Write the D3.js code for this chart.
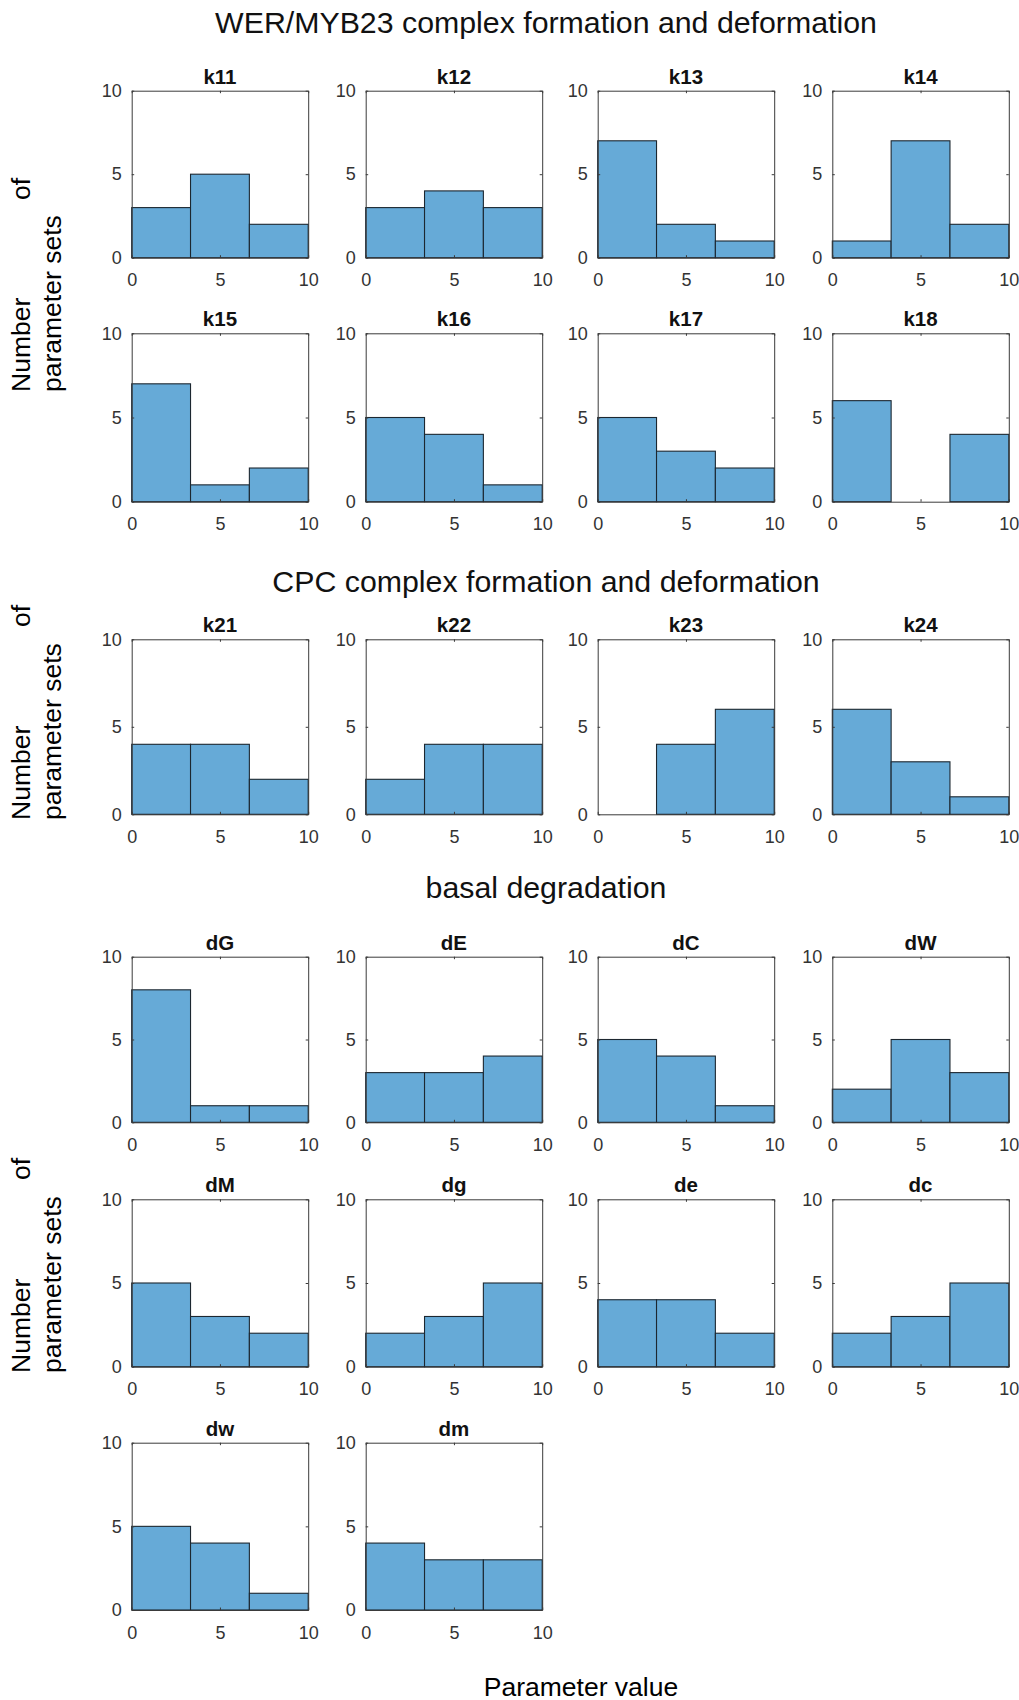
<!DOCTYPE html>
<html>
<head>
<meta charset="utf-8">
<script src="https://cdn.jsdelivr.net/npm/d3@7"></script>
<style>
  html, body { margin: 0; padding: 0; background: #fff; }
  svg { display: block; }
  text { font-family: "Liberation Sans", Arial, Helvetica, sans-serif; }
</style>
</head>
<body>
<svg id="chart" width="1019" height="1700"></svg>
<script>
// Histogram bins shared by every panel (3 equal bins over 0..10)
const binEdges = [0, 10 / 3, 20 / 3, 10];
const xTickValues = [0, 5, 10];
const yTickValues = [0, 5, 10];

// Section titles
const sectionTitles = [
  "WER/MYB23 complex formation and deformation",
  "CPC complex formation and deformation",
  "basal degradation"
];

// WER/MYB23 complex formation and deformation
const werNames = ["k11", "k12", "k13", "k14", "k15", "k16", "k17", "k18"];
const werCounts = [
  [3, 5, 2], [3, 4, 3], [7, 2, 1], [1, 7, 2],
  [7, 1, 2], [5, 4, 1], [5, 3, 2], [6, 0, 4]
];

// CPC complex formation and deformation
const cpcNames = ["k21", "k22", "k23", "k24"];
const cpcCounts = [
  [4, 4, 2], [2, 4, 4], [0, 4, 6], [6, 3, 1]
];

// basal degradation
const basalNames = ["dG", "dE", "dC", "dW", "dM", "dg", "de", "dc", "dw", "dm"];
const basalCounts = [
  [8, 1, 1], [3, 3, 4], [5, 4, 1], [2, 5, 3],
  [5, 3, 2], [2, 3, 5], [4, 4, 2], [2, 3, 5],
  [5, 4, 1], [4, 3, 3]
];

const yLabelLine1Start = "Number";
const yLabelLine1End = "of";
const yLabelLine2 = "parameter sets";
const xLabelText = "Parameter value";

// ---- layout ----
const colX = [131.7, 365.7, 597.7, 832.3];
const panelW = 176.5;
const rowBoxes = [
  { top: 90.7, h: 167 },
  { top: 333.3, h: 168.4 },
  { top: 639.3, h: 175 },
  { top: 956.7, h: 165.6 },
  { top: 1199.3, h: 167.4 },
  { top: 1442.7, h: 167.3 }
];
const sections = [
  { title: sectionTitles[0], titleY: 33, names: werNames, counts: werCounts, firstRow: 0,
    yLabel: { bottom: 392, ofEnd: 178 } },
  { title: sectionTitles[1], titleY: 592, names: cpcNames, counts: cpcCounts, firstRow: 2,
    yLabel: { bottom: 820, ofEnd: 605 } },
  { title: sectionTitles[2], titleY: 898, names: basalNames, counts: basalCounts, firstRow: 3,
    yLabel: { bottom: 1373, ofEnd: 1158 } }
];

const barFill = "#66aad7";
const barEdge = "#1c2730";
const boxColor = "#3a3a3a";
const tickTextColor = "#333333";

const svg = d3.select("#chart");

sections.forEach(sec => {
  // section heading
  svg.append("text")
    .attr("x", 546)
    .attr("y", sec.titleY)
    .attr("text-anchor", "middle")
    .attr("font-size", 30.3)
    .attr("fill", "#111")
    .text(sec.title);

  // rotated two-line y label
  const yl = svg.append("g");
  yl.append("text")
    .attr("transform", `translate(30,${sec.yLabel.bottom}) rotate(-90)`)
    .attr("font-size", 26.5)
    .attr("fill", "#000")
    .text(yLabelLine1Start);
  yl.append("text")
    .attr("transform", `translate(30,${sec.yLabel.ofEnd}) rotate(-90)`)
    .attr("text-anchor", "end")
    .attr("font-size", 26.5)
    .attr("fill", "#000")
    .text(yLabelLine1End);
  yl.append("text")
    .attr("transform", `translate(61,${sec.yLabel.bottom}) rotate(-90)`)
    .attr("font-size", 26.5)
    .attr("fill", "#000")
    .text(yLabelLine2);

  sec.names.forEach((name, i) => {
    const row = rowBoxes[sec.firstRow + Math.floor(i / 4)];
    const x0 = colX[i % 4];
    const x = d3.scaleLinear().domain([0, 10]).range([0, panelW]);
    const y = d3.scaleLinear().domain([0, 10]).range([row.h, 0]);

    const g = svg.append("g").attr("transform", `translate(${x0},${row.top})`);

    // bars
    const bins = sec.counts[i].map((c, k) => ({ x0: binEdges[k], x1: binEdges[k + 1], c }));
    g.selectAll("rect.bar")
      .data(bins)
      .join("rect")
      .attr("class", "bar")
      .attr("x", d => x(d.x0))
      .attr("width", d => x(d.x1) - x(d.x0))
      .attr("y", d => y(d.c))
      .attr("height", d => y(0) - y(d.c))
      .attr("fill", barFill)
      .attr("stroke", barEdge)
      .attr("stroke-width", 1.1);

    // box axes with inward ticks
    const tl = 2.5;
    const bottom = g.append("g").attr("transform", `translate(0,${row.h})`)
      .call(d3.axisBottom(x).tickValues(xTickValues).tickSizeInner(-tl).tickSizeOuter(0).tickPadding(16));
    const top = g.append("g")
      .call(d3.axisTop(x).tickValues(xTickValues).tickSizeInner(-tl).tickSizeOuter(0).tickFormat(""));
    const left = g.append("g")
      .call(d3.axisLeft(y).tickValues(yTickValues).tickSizeInner(-tl).tickSizeOuter(0).tickPadding(10));
    const right = g.append("g").attr("transform", `translate(${panelW},0)`)
      .call(d3.axisRight(y).tickValues(yTickValues).tickSizeInner(-tl).tickSizeOuter(0).tickFormat(""));

    [bottom, top, left, right].forEach(ax => {
      ax.select(".domain").attr("stroke", boxColor).attr("stroke-width", 1);
      ax.selectAll(".tick line").attr("stroke", boxColor).attr("stroke-width", 1);
      ax.selectAll(".tick text")
        .attr("font-size", 18)
        .attr("fill", tickTextColor)
        .attr("font-family", "Liberation Sans, Arial, Helvetica, sans-serif");
    });

    // panel title
    g.append("text")
      .attr("x", panelW / 2)
      .attr("y", -7)
      .attr("text-anchor", "middle")
      .attr("font-size", 20.5)
      .attr("font-weight", "bold")
      .attr("fill", "#111")
      .text(name);
  });
});

// shared x label
svg.append("text")
  .attr("x", 581)
  .attr("y", 1695.5)
  .attr("text-anchor", "middle")
  .attr("font-size", 26.5)
  .attr("fill", "#000")
  .text(xLabelText);
</script>
</body>
</html>
